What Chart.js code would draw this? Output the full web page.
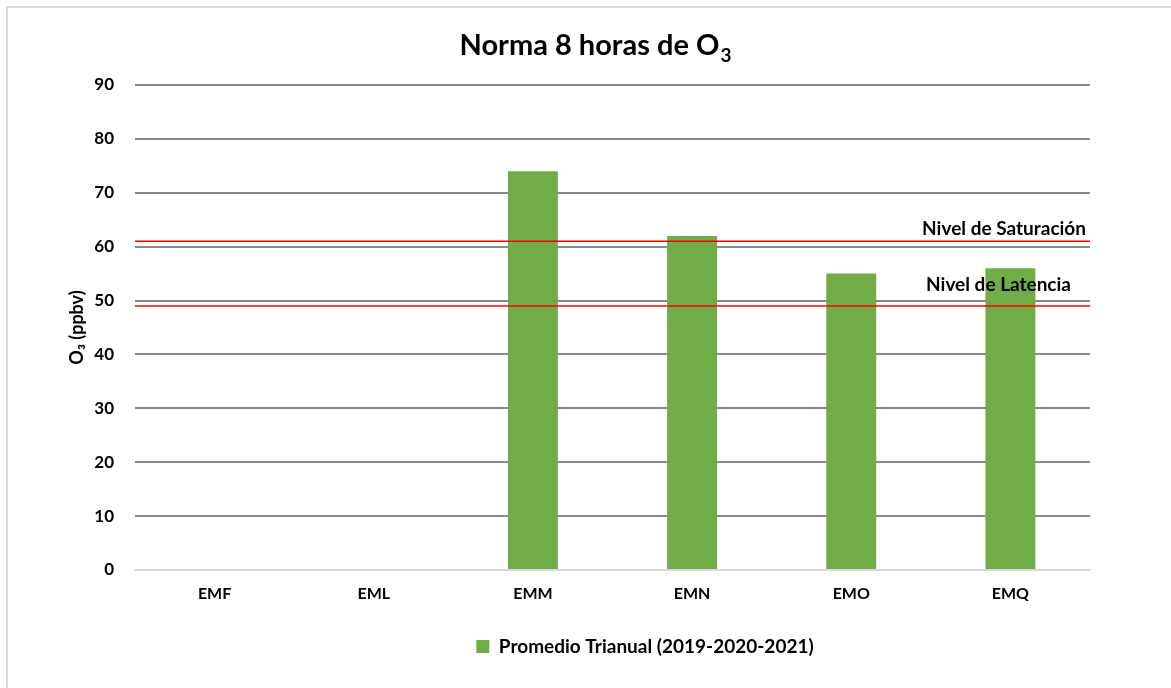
<!DOCTYPE html>
<html><head><meta charset="utf-8">
<script src="https://cdn.jsdelivr.net/npm/chart.js@4/dist/chart.umd.min.js"></script>
<style>html,body{margin:0;padding:0;background:#fff}#wrap{position:absolute;left:0;top:0;width:1171px;height:688px}</style>
</head><body><div id="wrap"><canvas id="c" width="1171" height="688"></canvas></div>
<script>
const categories = ['EMF', 'EML', 'EMM', 'EMN', 'EMO', 'EMQ'];
const promedio = [null, null, 74, 62, 55, 56];
const seriesName = 'Promedio Trianual (2019-2020-2021)';
const limitValues = [61, 49];
const limitLabels = ['Nivel de Saturación', 'Nivel de Latencia'];
const titleMain = 'Norma 8 horas de O';
const titleSub = '3';
const yTicks = [0, 10, 20, 30, 40, 50, 60, 70, 80, 90];

const FONT = 'Lato, "Open Sans", sans-serif';

const framePlugin = {
  id: 'frame',
  beforeDraw(chart) {
    const ctx = chart.ctx;
    ctx.save();
    ctx.fillStyle = '#fff';
    ctx.fillRect(0, 0, chart.width, chart.height);
    ctx.strokeStyle = '#d9d9d9';
    ctx.lineWidth = 2;
    ctx.beginPath();
    ctx.moveTo(7, chart.height);
    ctx.lineTo(7, 7);
    ctx.lineTo(chart.width, 7);
    ctx.stroke();
    ctx.restore();
  },
  afterDraw(chart) {
    // chart title with a true subscript
    const ctx = chart.ctx;
    ctx.save();
    ctx.fillStyle = '#000';
    ctx.textBaseline = 'alphabetic';
    ctx.textAlign = 'left';
    const mainFont = 'bold 29px ' + FONT, subFont = 'bold 19px ' + FONT;
    ctx.font = mainFont;
    const w1 = ctx.measureText(titleMain).width;
    ctx.font = subFont;
    const w2 = ctx.measureText(titleSub).width;
    const x0 = 595 - (w1 + w2) / 2;
    ctx.font = mainFont;
    ctx.fillText(titleMain, x0, 55);
    ctx.font = subFont;
    ctx.fillText(titleSub, x0 + w1 + 1, 62);
    ctx.restore();
  }
};

const limitPlugin = {
  id: 'limits',
  afterDatasetsDraw(chart) {
    const ctx = chart.ctx, y = chart.scales.y, area = chart.chartArea;
    const right = [area.right - 4, area.right - 19];
    const off = [-12, -21];
    ctx.save();
    limitValues.forEach((v, i) => {
      const py = y.getPixelForValue(v);
      ctx.strokeStyle = '#ff0000';
      ctx.lineWidth = 1.5;
      ctx.beginPath();
      ctx.moveTo(area.left, py);
      ctx.lineTo(area.right, py);
      ctx.stroke();
      ctx.fillStyle = '#000';
      ctx.font = 'bold 19px ' + FONT;
      ctx.textAlign = 'right';
      ctx.textBaseline = 'middle';
      ctx.fillText(limitLabels[i], right[i], py + off[i]);
    });
    ctx.restore();
  }
};

new Chart(document.getElementById('c'), {
  type: 'bar',
  data: {
    labels: categories,
    datasets: [{
      label: seriesName,
      data: promedio,
      backgroundColor: '#70ad47',
      borderWidth: 0,
      barPercentage: 0.314,
      categoryPercentage: 1,
      yAxisID: 'y'
    }]
  },
  options: {
    responsive: false,
    animation: false,
    layout: { padding: { left: 0, right: -119, top: 85, bottom: 22 } },
    plugins: {
      title: { display: false },
      legend: {
        display: true,
        position: 'bottom',
        labels: {
          color: '#000',
          font: { family: FONT, size: 19, weight: 'bold' },
          boxWidth: 13,
          boxHeight: 13,
          padding: 10
        }
      },
      tooltip: { enabled: false }
    },
    scales: {
      x: {
        grid: { display: false, drawTicks: false },
        border: { display: true, color: '#d9d9d9', width: 1.5 },
        ticks: { color: '#000', font: { family: FONT, size: 16, weight: 'bold' }, padding: 14 },
        afterFit(s) { s.height = 57; }
      },
      y: {
        min: 0, max: 90,
        afterBuildTicks(s) { s.ticks = yTicks.map(v => ({ value: v })); },
        grid: {
          color: (c) => c.tick && c.tick.value === 0 ? '#d9d9d9' : '#898989',
          lineWidth: 2,
          drawTicks: false
        },
        border: { display: false },
        ticks: { color: '#000', font: { family: FONT, size: 17, weight: 'bold' }, padding: 21 },
        title: {
          display: true,
          text: 'O₃ (ppbv)',
          color: '#000',
          font: { family: FONT, size: 18, weight: 'bold' },
          padding: { top: 66, bottom: 0 }
        },
        afterFit(s) { s.width = 135; }
      },
      yPad: {
        type: 'linear',
        position: 'right',
        display: true,
        grid: { display: false, drawOnChartArea: false, drawTicks: false },
        border: { display: false },
        ticks: { display: false },
        afterFit(s) { s.width = 200; }
      }
    }
  },
  plugins: [framePlugin, limitPlugin]
});
</script></body></html>
